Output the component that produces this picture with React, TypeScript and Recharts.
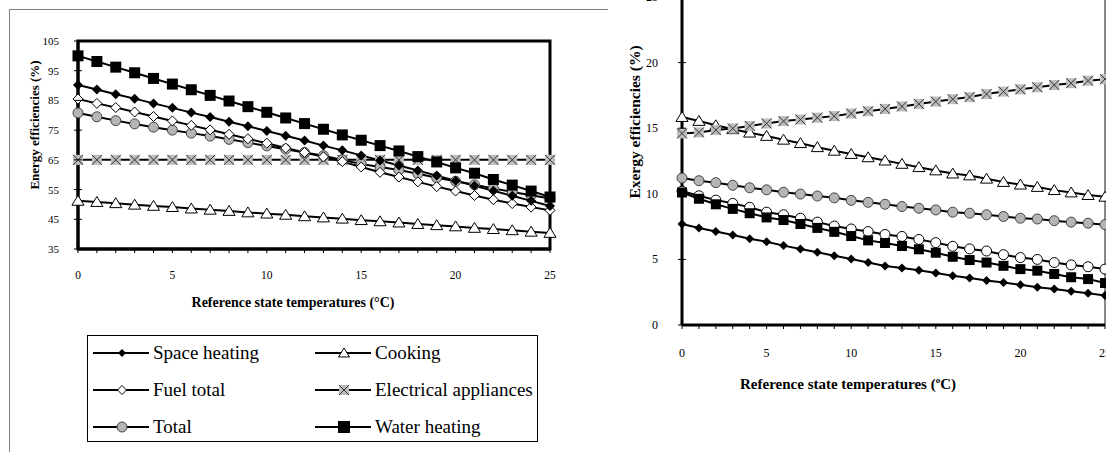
import React from "react";
import { LineChart, Line, XAxis, YAxis, ReferenceArea, ReferenceLine } from "recharts";

// reference state temperature (°C)
const temps = [0, 1, 2, 3, 4, 5, 6, 7, 8, 9, 10, 11, 12, 13, 14, 15, 16, 17, 18, 19, 20, 21, 22, 23, 24, 25];

// energy efficiencies (%), left chart
const energySpaceHeating = [90.2, 88.7, 87.1, 85.6, 84.0, 82.5, 80.9, 79.4, 77.8, 76.3, 74.7, 73.1, 71.5, 69.8, 68.2, 66.5, 64.8, 63.1, 61.4, 59.7, 58.0, 56.3, 54.6, 52.9, 51.2, 49.5];
const energyCooking = [51.2, 50.8, 50.4, 49.9, 49.5, 49.1, 48.6, 48.2, 47.8, 47.3, 46.9, 46.5, 46.0, 45.6, 45.2, 44.7, 44.3, 43.9, 43.4, 43.0, 42.6, 42.1, 41.7, 41.3, 40.8, 40.4];
const energyFuelTotal = [85.5, 84.0, 82.6, 81.1, 79.6, 78.1, 76.6, 75.1, 73.6, 72.1, 70.6, 69.0, 67.5, 66.0, 64.4, 62.6, 60.8, 59.2, 57.6, 56.0, 54.5, 53.0, 51.6, 50.3, 49.1, 48.0];
const energyElectrical = [65, 65, 65, 65, 65, 65, 65, 65, 65, 65, 65, 65, 65, 65, 65, 65, 65, 65, 65, 65, 65, 65, 65, 65, 65, 65];
const energyTotal = [80.8, 79.5, 78.2, 77.1, 76.0, 75.0, 74.0, 73.0, 71.9, 70.8, 69.7, 68.6, 67.5, 66.4, 65.0, 63.6, 62.6, 61.6, 60.3, 59.0, 57.8, 56.6, 55.4, 54.2, 53.1, 52.0];
const energyWaterHeating = [100, 98.1, 96.2, 94.3, 92.4, 90.5, 88.6, 86.7, 84.8, 82.9, 81.0, 79.1, 77.2, 75.3, 73.4, 71.6, 69.8, 68.0, 66.1, 64.3, 62.3, 60.5, 58.4, 56.5, 54.5, 52.5];

// exergy efficiencies (%), right chart
const exergySpaceHeating = [7.7, 7.4, 7.12, 6.86, 6.57, 6.34, 6.05, 5.8, 5.54, 5.28, 5.03, 4.77, 4.5, 4.35, 4.17, 3.97, 3.76, 3.58, 3.4, 3.24, 3.06, 2.88, 2.74, 2.58, 2.42, 2.25];
const exergyCooking = [15.85, 15.55, 15.22, 14.92, 14.66, 14.41, 14.12, 13.86, 13.55, 13.28, 13.03, 12.78, 12.53, 12.28, 12.03, 11.78, 11.54, 11.4, 11.15, 10.9, 10.7, 10.52, 10.28, 10.1, 9.9, 9.77];
const exergyFuelTotal = [10.2, 9.85, 9.52, 9.27, 8.97, 8.6, 8.4, 8.14, 7.84, 7.54, 7.32, 7.12, 6.9, 6.75, 6.52, 6.28, 6.0, 5.8, 5.64, 5.36, 5.14, 5.0, 4.76, 4.58, 4.44, 4.26];
const exergyElectrical = [14.6, 14.68, 14.86, 14.98, 15.17, 15.36, 15.54, 15.66, 15.8, 15.92, 16.12, 16.29, 16.47, 16.66, 16.85, 17.03, 17.21, 17.37, 17.6, 17.79, 17.96, 18.12, 18.29, 18.43, 18.62, 18.74];
const exergyTotal = [11.2, 11.0, 10.85, 10.65, 10.46, 10.3, 10.12, 9.98, 9.83, 9.69, 9.5, 9.35, 9.2, 9.03, 8.9, 8.77, 8.6, 8.52, 8.4, 8.27, 8.14, 8.08, 7.95, 7.84, 7.76, 7.65];
const exergyWaterHeating = [10.1, 9.62, 9.2, 8.85, 8.52, 8.2, 8.0, 7.7, 7.4, 7.1, 6.78, 6.45, 6.25, 6.02, 5.77, 5.51, 5.2, 4.95, 4.76, 4.51, 4.26, 4.14, 3.89, 3.64, 3.5, 3.2];

const energyTicks = [35, 45, 55, 65, 75, 85, 95, 105];
const exergyTicks = [0, 5, 10, 15, 20, 25];

const energyData = temps.map((t, i) => ({
  t,
  spaceHeating: energySpaceHeating[i],
  cooking: energyCooking[i],
  fuelTotal: energyFuelTotal[i],
  electrical: energyElectrical[i],
  total: energyTotal[i],
  waterHeating: energyWaterHeating[i],
}));

const exergyData = temps.map((t, i) => ({
  t,
  spaceHeating: exergySpaceHeating[i],
  cooking: exergyCooking[i],
  fuelTotal: exergyFuelTotal[i],
  electrical: exergyElectrical[i],
  total: exergyTotal[i],
  waterHeating: exergyWaterHeating[i],
}));

type Shape = "diamond" | "diamondOpen" | "circleGray" | "circleOpen" | "triangle" | "xsquare" | "square";

const SERIF = "Liberation Serif";

function Marker({ shape, cx, cy, s }: { shape: Shape; cx: number; cy: number; s: number }) {
  if (cx == null || cy == null) return null;
  switch (shape) {
    case "diamond":
      return <polygon points={`${cx},${cy - s} ${cx + s},${cy} ${cx},${cy + s} ${cx - s},${cy}`} fill="#000" />;
    case "diamondOpen":
      return (
        <polygon points={`${cx},${cy - s} ${cx + s},${cy} ${cx},${cy + s} ${cx - s},${cy}`} fill="#fff" stroke="#000" strokeWidth={1} />
      );
    case "circleGray":
      return <circle cx={cx} cy={cy} r={s} fill="#b5b5b5" stroke="#444" strokeWidth={1} />;
    case "circleOpen":
      return <circle cx={cx} cy={cy} r={s} fill="#fff" stroke="#000" strokeWidth={1} />;
    case "triangle":
      return (
        <polygon
          points={`${cx},${cy - s} ${cx + s * 1.1},${cy + s * 0.8} ${cx - s * 1.1},${cy + s * 0.8}`}
          fill="#fff"
          stroke="#000"
          strokeWidth={1}
        />
      );
    case "xsquare":
      return (
        <g>
          <rect x={cx - s} y={cy - s} width={s * 2} height={s * 2} fill="#bdbdbd" />
          <line x1={cx - s} y1={cy - s} x2={cx + s} y2={cy + s} stroke="#333" strokeWidth={1} />
          <line x1={cx - s} y1={cy + s} x2={cx + s} y2={cy - s} stroke="#333" strokeWidth={1} />
        </g>
      );
    case "square":
      return <rect x={cx - s} y={cy - s} width={s * 2} height={s * 2} fill="#000" />;
  }
  return null;
}

type Series = { key: string; name: string; shape: Shape; size: number };

const energySeries: Series[] = [
  { key: "cooking", name: "Cooking", shape: "triangle", size: 5.5 },
  { key: "electrical", name: "Electrical appliances", shape: "xsquare", size: 5 },
  { key: "total", name: "Total", shape: "circleGray", size: 5 },
  { key: "fuelTotal", name: "Fuel total", shape: "diamondOpen", size: 5 },
  { key: "spaceHeating", name: "Space heating", shape: "diamond", size: 5 },
  { key: "waterHeating", name: "Water heating", shape: "square", size: 5.5 },
];

const exergySeries: Series[] = [
  { key: "cooking", name: "Cooking", shape: "triangle", size: 5.5 },
  { key: "electrical", name: "Electrical appliances", shape: "xsquare", size: 5 },
  { key: "total", name: "Total", shape: "circleGray", size: 5 },
  { key: "fuelTotal", name: "Fuel total", shape: "circleOpen", size: 5 },
  { key: "waterHeating", name: "Water heating", shape: "square", size: 5 },
  { key: "spaceHeating", name: "Space heating", shape: "diamond", size: 4.5 },
];

const legendItems: { name: string; shape: Shape; size: number }[] = [
  { name: "Space heating", shape: "diamond", size: 4 },
  { name: "Cooking", shape: "triangle", size: 5 },
  { name: "Fuel total", shape: "diamondOpen", size: 4.5 },
  { name: "Electrical appliances", shape: "xsquare", size: 5 },
  { name: "Total", shape: "circleGray", size: 5 },
  { name: "Water heating", shape: "square", size: 6 },
];

function makeYTick(labelGap: number, fontSize: number) {
  return (p: any) => (
    <g>
      <line x1={p.x - 4} x2={p.x + 4} y1={p.y} y2={p.y} stroke="#000" strokeWidth={1} />
      <text x={p.x - labelGap} y={p.y} dy={4} textAnchor="end" fontSize={fontSize} fontFamily={SERIF} fill="#000">
        {p.payload.value}
      </text>
    </g>
  );
}

function makeXTick(labelGap: number, fontSize: number) {
  return (p: any) => (
    <g>
      <line x1={p.x} x2={p.x} y1={p.y} y2={p.y + 4} stroke="#000" strokeWidth={1} />
      {p.payload.value % 5 === 0 && (
        <text x={p.x} y={p.y + labelGap} textAnchor="middle" fontSize={fontSize} fontFamily={SERIF} fill="#000">
          {p.payload.value}
        </text>
      )}
    </g>
  );
}

function renderLines(series: Series[]) {
  return series.map((s) => (
    <Line
      key={s.key}
      type="linear"
      dataKey={s.key}
      name={s.name}
      stroke="#000"
      strokeWidth={2}
      isAnimationActive={false}
      dot={(p: any) => <Marker key={`${s.key}-${p.index}`} shape={s.shape} cx={p.cx} cy={p.cy} s={s.size} />}
    />
  ));
}

const titleStyle: React.CSSProperties = {
  position: "absolute",
  fontFamily: SERIF,
  fontWeight: "bold",
  whiteSpace: "nowrap",
  color: "#000",
};

export default function App() {
  return (
    <div style={{ position: "absolute", left: 0, top: 0, width: 1106, height: 452, overflow: "hidden", background: "#fff" }}>
      {/* frame of left figure */}
      <div style={{ position: "absolute", left: 9, top: 9, width: 599, height: 1, background: "#808080" }} />
      <div style={{ position: "absolute", left: 9, top: 9, width: 1, height: 443, background: "#808080" }} />

      {/* energy chart */}
      <div style={{ position: "absolute", left: 0, top: 0 }}>
        <LineChart width={600} height={330} data={energyData} margin={{ top: 41, right: 50, bottom: 0, left: 0 }}>
          <XAxis
            dataKey="t"
            type="number"
            domain={[0, 25]}
            ticks={temps}
            interval={0}
            height={81}
            tickSize={0}
            tickMargin={0}
            tickLine={false}
            axisLine={{ stroke: "#000", strokeWidth: 3 }}
            tick={makeXTick(30, 11.5)}
          />
          <YAxis
            type="number"
            domain={[35, 105]}
            ticks={energyTicks}
            interval={0}
            width={78}
            tickSize={0}
            tickMargin={0}
            tickLine={false}
            axisLine={{ stroke: "#000", strokeWidth: 3 }}
            tick={makeYTick(19, 11)}
          />
          <ReferenceArea x1={0} x2={25} y1={35} y2={105} fill="#fff" fillOpacity={0} stroke="#000" strokeWidth={3} />
          {renderLines(energySeries)}
        </LineChart>
      </div>
      <div style={{ ...titleStyle, left: 0, width: 586, top: 295, textAlign: "center", fontSize: 14, lineHeight: "16px" }}>
        Reference state temperatures (°C)
      </div>
      <div
        style={{
          ...titleStyle,
          left: 35,
          top: 125,
          fontSize: 13,
          transform: "translate(-50%, -50%) rotate(-90deg)",
        }}
      >
        Energy efficiencies (%)
      </div>

      {/* legend */}
      <div
        style={{
          position: "absolute",
          left: 87,
          top: 335,
          width: 451,
          height: 107,
          border: "1.5px solid #000",
          boxSizing: "border-box",
          fontFamily: SERIF,
          fontSize: 19,
        }}
      >
        {legendItems.map((it, i) => {
          const col = i % 2;
          const row = Math.floor(i / 2);
          const left = col === 0 ? 5 : 227;
          const top = 17 + row * 37;
          return (
            <div key={it.name} style={{ position: "absolute", left, top: top - 11, height: 22, display: "flex", alignItems: "center" }}>
              <svg width={58} height={20}>
                <line x1={0} x2={56} y1={10} y2={10} stroke="#000" strokeWidth={2} />
                <Marker shape={it.shape} cx={29} cy={10} s={it.size} />
              </svg>
              <span style={{ marginLeft: 2, whiteSpace: "nowrap" }}>{it.name}</span>
            </div>
          );
        })}
      </div>

      {/* exergy chart */}
      <div style={{ position: "absolute", left: 600, top: -40 }}>
        <LineChart width={520} height={420} data={exergyData} margin={{ top: 37, right: 15, bottom: 0, left: 0 }}>
          <XAxis
            dataKey="t"
            type="number"
            domain={[0, 25]}
            ticks={temps}
            interval={0}
            height={55}
            tickSize={0}
            tickMargin={0}
            tickLine={false}
            axisLine={{ stroke: "#000", strokeWidth: 3 }}
            tick={makeXTick(32, 12)}
          />
          <YAxis
            type="number"
            domain={[0, 25]}
            ticks={exergyTicks}
            interval={0}
            width={82}
            tickSize={0}
            tickMargin={0}
            tickLine={false}
            axisLine={{ stroke: "#000", strokeWidth: 3 }}
            tick={makeYTick(24, 12)}
          />
          <ReferenceLine x={25} stroke="#888" strokeWidth={2} />
          {renderLines(exergySeries)}
        </LineChart>
      </div>
      <div style={{ ...titleStyle, left: 848, top: 370, transform: "translateX(-50%)", fontSize: 15, lineHeight: "20px" }}>
        Reference state temperatures (<sup style={{ fontSize: 9, verticalAlign: "6px" }}>o</sup>C)
      </div>
      <div
        style={{
          ...titleStyle,
          left: 635,
          top: 122,
          fontSize: 15.5,
          transform: "translate(-50%, -50%) rotate(-90deg)",
        }}
      >
        Exergy efficiencies (%)
      </div>
    </div>
  );
}
